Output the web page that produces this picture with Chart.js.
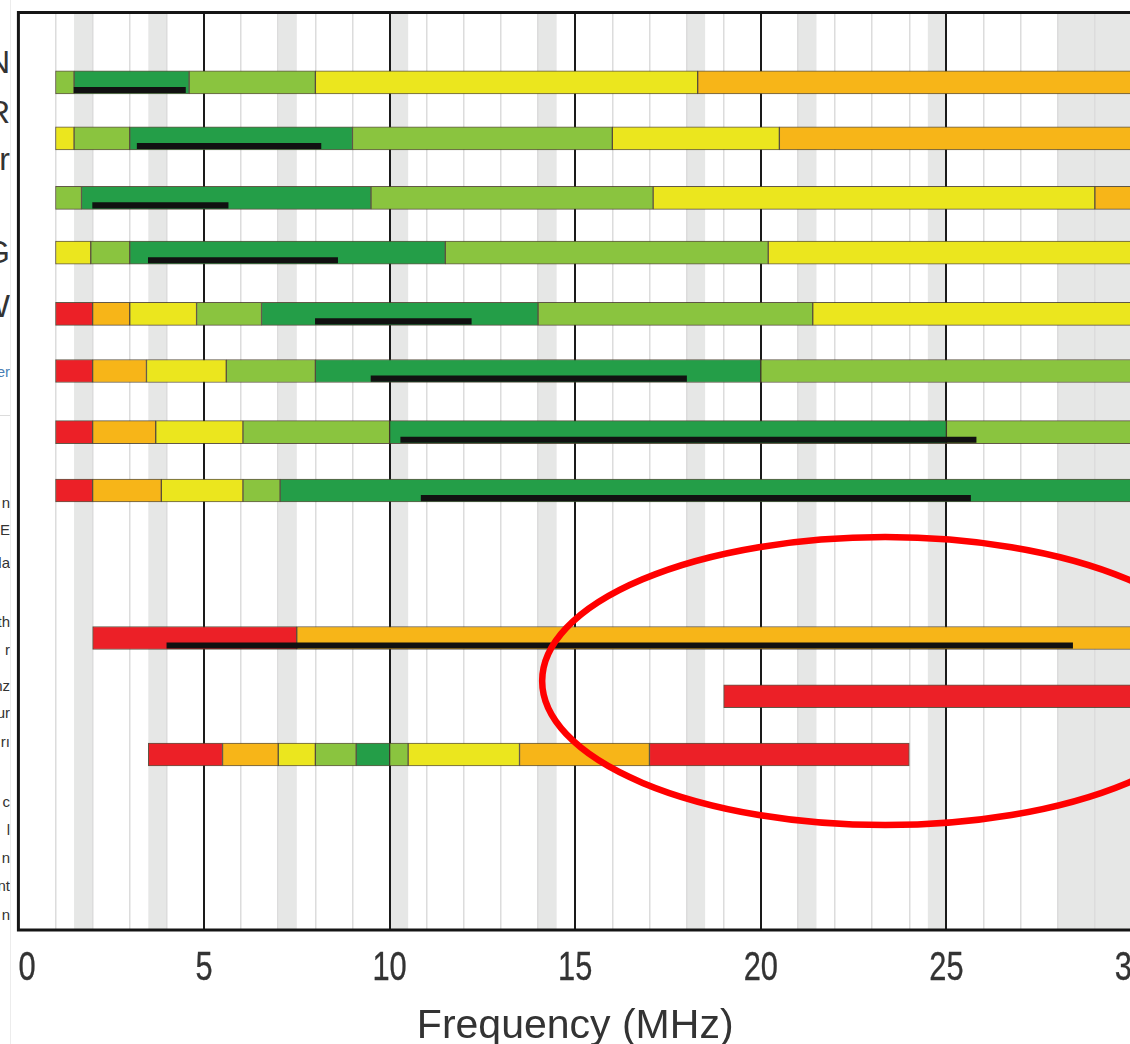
<!DOCTYPE html>
<html><head><meta charset="utf-8">
<script src="https://cdn.jsdelivr.net/npm/chart.js@4.4.1/dist/chart.umd.min.js"></script>
<style>
html,body{margin:0;padding:0;background:#fff;overflow:hidden;width:1130px;height:1044px;}
#wrap{position:absolute;left:0;top:0;width:1150px;height:1044px;}
#frag{position:absolute;left:0;top:0;width:10px;height:1044px;overflow:hidden;}
.f{position:absolute;right:0;white-space:nowrap;font-family:'Liberation Sans',Arial,sans-serif;color:#333;line-height:1;}
.big{font-size:32px;}
.small{font-size:15px;}
#edge{position:absolute;left:10px;top:0;width:1px;height:1044px;background:#ececec;}
#hl{position:absolute;left:0;top:415px;width:10px;height:1px;background:#dcdcdc;}
</style></head>
<body>
<div id="frag">
  <div class="f big" style="top:46px">N</div>
  <div class="f big" style="top:96px">R</div>
  <div class="f big" style="top:143px">r</div>
  <div class="f big" style="top:236px">G</div>
  <div class="f big" style="top:290px">W</div>
  <div class="f small" style="top:364px;color:#4a7fb5">er</div>
  <div class="f small" style="top:495px">n</div>
  <div class="f small" style="top:522px">E</div>
  <div class="f small" style="top:555px">la</div>
  <div class="f small" style="top:614px">th</div>
  <div class="f small" style="top:642px">r</div>
  <div class="f small" style="top:678px">nz</div>
  <div class="f small" style="top:705px">ur</div>
  <div class="f small" style="top:734px">rı</div>
  <div class="f small" style="top:794px">c</div>
  <div class="f small" style="top:822px">l</div>
  <div class="f small" style="top:850px">n</div>
  <div class="f small" style="top:878px">nt</div>
  <div class="f small" style="top:907px">n</div>
  <div id="hl"></div>
</div>
<div id="edge"></div>
<div id="wrap"><canvas id="c" width="1150" height="1044"></canvas></div>
<script>
// ---- data ----
const rowPos = [0, 0.96, 1.98, 2.92, 3.97, 4.95, 6.0, 7.0, 9.53, 10.53, 11.53];
// level: 0 red, 1 orange, 2 yellow, 3 light green, 4 dark green
const segBounds = [
  [1, 1.5, 4.6, 8.0, 18.3, 30],
  [1, 1.5, 3.0, 9.0, 16.0, 20.5, 30],
  [1, 1.7, 9.5, 17.1, 29.0, 30],
  [1, 1.95, 3.0, 11.5, 20.2, 30],
  [1, 2.0, 3.0, 4.8, 6.55, 14.0, 21.4, 30],
  [1, 2.0, 3.45, 5.6, 8.0, 20.0, 30],
  [1, 2.0, 3.7, 6.05, 10.0, 25.0, 30],
  [1, 2.0, 3.85, 6.05, 7.05, 30],
  [2.0, 7.5, 30],
  [19.0, 30],
  [3.5, 5.5, 7.0, 8.0, 9.1, 10.0, 10.5, 13.5, 17.0, 24.0]
];
const segLevels = [
  [3, 4, 3, 2, 1],
  [2, 3, 4, 3, 2, 1],
  [3, 4, 3, 2, 1],
  [2, 3, 4, 3, 2],
  [0, 1, 2, 3, 4, 3, 2],
  [0, 1, 2, 3, 4, 3],
  [0, 1, 2, 3, 4, 3],
  [0, 1, 2, 3, 4],
  [0, 1],
  [0],
  [0, 1, 2, 3, 4, 3, 2, 1, 0]
];
const bestStart = [1.5, 3.2, 2.0, 3.5, 8.0, 9.5, 10.3, 10.85, 4.0, null, null];
const bestEnd   = [4.5, 8.15, 5.65, 8.6, 12.2, 18.0, 25.8, 25.65, 28.4, null, null];
const levelColors = ['#ec2027', '#f7b518', '#ebe61e', '#8ac43f', '#249e48'];
const bandStarts = [1.5, 3.5, 7.0, 10.0, 14.0, 18.0, 21.0, 24.5, 28.0];
const bandEnds   = [2.0, 4.0, 7.5, 10.5, 14.5, 18.5, 21.5, 25.0, 30.0];
const majorTicks = [0, 5, 10, 15, 20, 25, 30];
const xTitle = 'Frequency (MHz)';
const highlight = {x: 23.35, y: 10.27, rx: 9.24, ry: 2.47};
const BEST_SHIFT = 0.13;
const TICK_STRETCH = 0.77;

// ---- build datasets ----
const segData = [];
rowPos.forEach((y, r) => {
  const b = segBounds[r];
  for (let i = 0; i < b.length - 1; i++) {
    segData.push({y: y, x: [b[i], b[i + 1]], level: segLevels[r][i]});
  }
});
const bestData = [];
rowPos.forEach((y, r) => {
  if (bestStart[r] != null) bestData.push({y: y + BEST_SHIFT, x: [bestStart[r], bestEnd[r]]});
});

const bandsPlugin = {
  id: 'bands',
  beforeDraw(chart) {
    const {ctx, chartArea: a, scales: {x}} = chart;
    ctx.save();
    ctx.fillStyle = '#e6e7e6';
    bandStarts.forEach((s, i) => {
      const x0 = x.getPixelForValue(s), x1 = x.getPixelForValue(bandEnds[i]);
      ctx.fillRect(x0, a.top, x1 - x0, a.bottom - a.top);
    });
    ctx.restore();
  }
};
// draw the library's tick labels in a condensed style
const condensePlugin = {
  id: 'condense',
  beforeDraw(chart) {
    const s = chart.scales.x;
    if (s._condensed) return;
    s._condensed = true;
    s.drawLabels = function (chartArea) {
      const ctx = this.ctx;
      const items = this.getLabelItems(chartArea);
      for (const item of items) {
        if (!item.label) continue;
        const o = item.options;
        ctx.save();
        ctx.translate(o.translation[0], o.translation[1]);
        ctx.scale(TICK_STRETCH, 1);
        ctx.font = item.font.string;
        ctx.fillStyle = o.color;
        ctx.strokeStyle = o.color;
        ctx.lineWidth = 0.35;
        ctx.textAlign = o.textAlign;
        ctx.textBaseline = o.textBaseline;
        ctx.fillText(item.label, 0, item.textOffset || 0);
        ctx.strokeText(item.label, 0, item.textOffset || 0);
        ctx.restore();
      }
    };
  }
};
const framePlugin = {
  id: 'frame',
  afterDraw(chart) {
    const {ctx, chartArea: a, scales: {x, y}} = chart;
    ctx.save();
    ctx.strokeStyle = '#151515';
    ctx.lineWidth = 3;
    ctx.strokeRect(a.left, a.top, a.right - a.left, a.bottom - a.top);
    const cx = x.getPixelForValue(highlight.x), cy = y.getPixelForValue(highlight.y);
    const rx = x.getPixelForValue(highlight.x + highlight.rx) - cx;
    const ry = Math.abs(y.getPixelForValue(highlight.y + highlight.ry) - cy);
    ctx.beginPath();
    ctx.ellipse(cx, cy, rx, ry, 0, 0, Math.PI * 2);
    ctx.strokeStyle = '#ff0000';
    ctx.lineWidth = 6.5;
    ctx.stroke();
    ctx.restore();
  }
};

new Chart(document.getElementById('c'), {
  type: 'bar',
  data: {
    datasets: [
      {label: 'best', data: bestData, backgroundColor: '#111', borderWidth: 0,
       barThickness: 5.5, stack: 'g', order: 0},
      {label: 'seg', data: segData, backgroundColor: c => levelColors[c.raw.level],
       borderColor: 'rgba(70,60,40,0.85)', borderWidth: 1, borderSkipped: false,
       barThickness: 23, stack: 'g', order: 1}
    ]
  },
  options: {
    indexAxis: 'y',
    responsive: false,
    animation: false,
    layout: {padding: {left: 18.4, right: 18, top: 12.5, bottom: 0}},
    plugins: {legend: {display: false}, tooltip: {enabled: false}},
    scales: {
      x: {
        type: 'linear', min: 0, max: 30, stacked: false, position: 'bottom',
        afterFit: s => { s.height = 114; s.paddingLeft = 0; s.paddingRight = 0; },
        border: {display: false},
        grid: {
          drawTicks: true, tickLength: 15, tickColor: 'rgba(0,0,0,0)',
          color: c => (c.tick && c.tick.value % 5 === 0) ? '#1a1a1a' : '#dcdcdc',
          lineWidth: c => (c.tick && c.tick.value % 5 === 0) ? 2 : 1.5
        },
        ticks: {
          stepSize: 1, autoSkip: false, maxRotation: 0, padding: 0, color: '#333',
          font: {family: 'Liberation Sans', size: 40},
          callback: v => majorTicks.includes(v) ? (v === 0 ? '\u2007' + v : String(v)) : ''
        },
        title: {display: true, text: xTitle, color: '#333',
          font: {family: 'Liberation Sans', size: 41, lineHeight: 1}, padding: {top: 0, bottom: -3}}
      },
      y: {type: 'linear', min: -1.2, max: 14.54, reverse: true, display: false, offset: false}
    }
  },
  plugins: [bandsPlugin, condensePlugin, framePlugin]
});
</script>
</body></html>
